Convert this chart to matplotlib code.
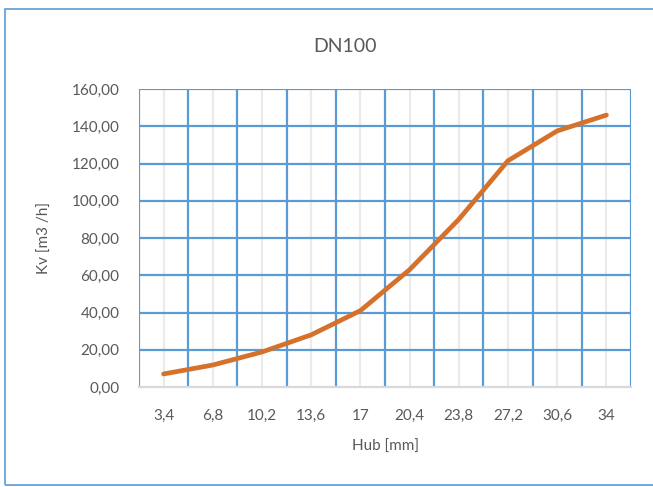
import numpy as np
import matplotlib.pyplot as plt
from matplotlib.patches import Rectangle

plt.rcParams["font.family"] = ["Lato", "DejaVu Sans"]

hub = ["3,4", "6,8", "10,2", "13,6", "17", "20,4", "23,8", "27,2", "30,6", "34"]
kv = [7.0, 11.8, 18.8, 28.0, 41.0, 63.0, 90.0, 121.5, 137.5, 146.0]
y_ticks = [0, 20, 40, 60, 80, 100, 120, 140, 160]

blue = "#5B9BD5"
text_col = "#595959"

fig = plt.figure(figsize=(6.53, 4.87), dpi=100)
# chart frame, its right edge runs off the image
fig.patches.append(Rectangle((5 / 653, 2 / 487), 1.0, 476 / 487, transform=fig.transFigure,
                             fill=False, edgecolor=blue, linewidth=1.2))

ax = fig.add_axes([139 / 653, 1 - 387 / 487, (631 - 139) / 653, (387 - 89) / 487])
x = np.arange(len(hub))

# gray lines through the categories, blue lines between them
for xi in x:
    ax.axvline(xi, color="#EBEBEB", linewidth=1.6, zorder=1)
for xb in np.arange(-0.5, len(hub), 1.0):
    ax.axvline(xb, color=blue, linewidth=1.6, zorder=2)
for yv in y_ticks[1:]:
    ax.axhline(yv, color=blue, linewidth=1.6, zorder=2)

ax.plot(x, kv, color="#D5712B", linewidth=3.4, solid_capstyle="round",
        solid_joinstyle="round", zorder=3)

ax.set_xlim(-0.5, len(hub) - 0.5)
ax.set_ylim(0, 160)
ax.set_xticks(x)
ax.set_xticklabels(hub)
ax.set_yticks(y_ticks)
ax.set_yticklabels([f"{v},00" for v in y_ticks])
ax.tick_params(length=0, labelsize=11, labelcolor=text_col)
ax.tick_params(axis="x", pad=16)
ax.tick_params(axis="y", pad=14)

for side in ["top", "right", "left"]:
    ax.spines[side].set_visible(False)
ax.spines["bottom"].set_color("#D9D9D9")
ax.spines["bottom"].set_linewidth(1.6)
ax.spines["bottom"].set_zorder(4)

ax.set_xlabel("Hub [mm]", fontsize=11, color=text_col, labelpad=12)
ax.set_ylabel("Kv [m3 /h]", fontsize=11, color=text_col, labelpad=14)
fig.text(0.528, 1 - 47 / 487, "DN100", ha="center", va="center", fontsize=14, color=text_col)

fig.savefig("out.png", dpi=100)
